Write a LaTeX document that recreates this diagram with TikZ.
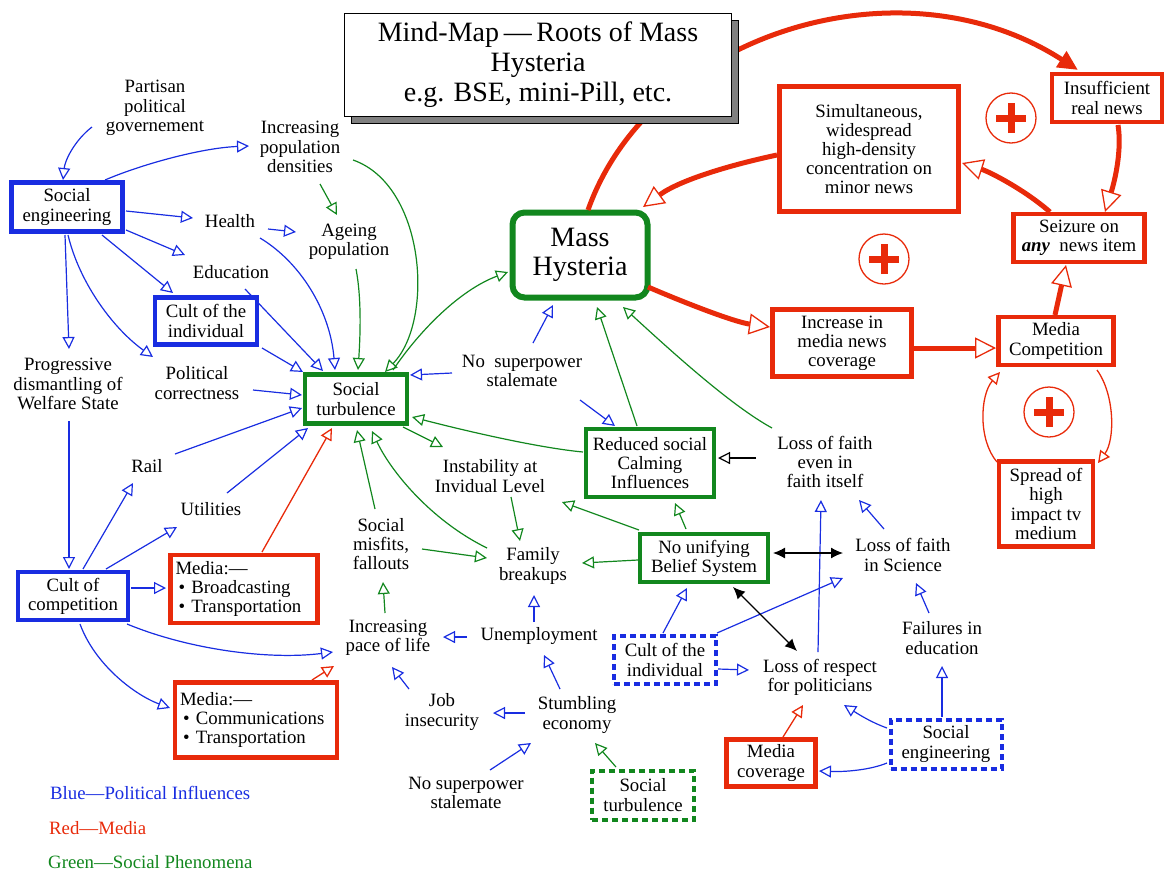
\documentclass[tikz,border=0pt]{standalone}
\usepackage{fontspec}
\setmainfont{Liberation Serif}
\usetikzlibrary{arrows.meta}
\definecolor{myblue}{RGB}{25,45,225}
\definecolor{myred}{RGB}{232,42,10}
\definecolor{mygreen}{RGB}{18,135,30}
\tikzset{
 every node/.style={font=\fontsize{18.8}{19.2}\selectfont},
 txt/.style={align=center, inner sep=0pt},
 bx/.style={draw, fill=white, align=center, inner sep=1pt, line width=4.5pt},
 bbox/.style={bx, draw=myblue},
 gbox/.style={bx, draw=mygreen},
 rbox/.style={bx, draw=myred},
 bdash/.style={bx, draw=myblue, line width=4pt, dash pattern=on 6pt off 4pt},
 gdash/.style={bx, draw=mygreen, line width=4pt, dash pattern=on 6pt off 4pt},
 otip/.style={-{Triangle[open,length=12pt,width=12pt]}},
 bl/.style={myblue, line width=1.2pt, otip},
 gr/.style={mygreen, line width=1.2pt, otip},
 rd/.style={myred, line width=1.3pt, otip},
 bk/.style={black, line width=1.2pt, otip},
 bkdbl/.style={black, line width=1.2pt, {Latex[length=12pt,width=11pt]}-{Latex[length=12pt,width=11pt]}},
 rthick/.style={myred, line width=5pt, -{Triangle[open,length=21pt,width=21pt,line width=1.3pt]}},
 pluscirc/.style={circle, draw=myred, line width=1.3pt, minimum size=50pt, inner sep=0pt},
}
\begin{document}
\begin{tikzpicture}[x=1pt,y=-1pt]
\useasboundingbox (0,0) rectangle (1166,873);
% ---------- nodes ----------
\node[txt] (partisan) at (155,108) {Partisan\\political\\governement};
\node[txt] (popdens) at (300,147) {Increasing\\population\\densities};
\node[bbox, minimum width=111pt, minimum height=49pt] (soceng) at (67,207) {Social\\engineering};
\node[txt] (health) at (230,221) {Health};
\node[txt] (educ) at (231,272) {Education};
\node[txt] (ageing) at (349,242) {Ageing\\population};
\node[bbox, minimum width=102pt, minimum height=47pt] (cultind) at (206,321) {Cult of the\\individual};
\node[txt] (progdis) at (68,384) {Progressive\\dismantling of\\Welfare State};
\node[txt] (polcor) at (197,383) {Political\\correctness};
\node[gbox, minimum width=102pt, minimum height=49pt] (st) at (356,399) {Social\\turbulence};
\node[txt] (nosup1) at (522,371) {No\ \ superpower\\stalemate};
\node[txt] (rail) at (147,466) {Rail};
\node[txt] (util) at (211,509) {Utilities};
\node[txt] (instab) at (490,476) {Instability at\\Invidual Level};
\node[gbox, minimum width=128pt, minimum height=68pt] (reduced) at (650,463) {Reduced social\\Calming\\Influences};
\node[txt] (lossfaith) at (825,462) {Loss of faith\\even in\\faith itself};
\node[gbox, minimum width=128pt, minimum height=48pt] (nounify) at (704,558) {No unifying\\Belief System};
\node[txt] (losssci) at (903,555) {Loss of faith\\in Science};
\node[txt] (misfits) at (381,544) {Social\\misfits,\\fallouts};
\node[txt] (family) at (533,566) {Family\\breakups};
\node[bbox, minimum width=110pt, minimum height=48pt] (cultcomp) at (73,596) {Cult of\\competition};
\node[rbox, align=left, text width=137pt, minimum height=68pt, inner xsep=5pt] (mediab) at (244,589) {Media:—\\\hspace*{3pt}\textbullet\ Broadcasting\\\hspace*{3pt}\textbullet\ Transportation};
\node[rbox, align=left, text width=152pt, minimum height=75pt, inner xsep=5pt] (mediac) at (256,720) {Media:—\\\hspace*{3pt}\textbullet\ Communications\\\hspace*{3pt}\textbullet\ Transportation};
\node[txt] (pace) at (388,638) {Increasing\\pace of life};
\node[txt] (unemp) at (539,636) {Unemployment};
\node[bdash, minimum width=102pt, minimum height=48pt] (cultind2) at (665,660) {Cult of the\\individual};
\node[txt] (lossresp) at (820,677) {Loss of respect\\for politicians};
\node[txt] (failed) at (942,638) {Failures in\\education};
\node[txt] (jobins) at (442,712) {Job\\insecurity};
\node[txt] (stumb) at (577,715) {Stumbling\\economy};
\node[txt] (nosup2) at (466,793) {No superpower\\stalemate};
\node[gdash, minimum width=102pt, minimum height=49pt] (st2) at (643,795) {Social\\turbulence};
\node[rbox, minimum width=89pt, minimum height=47pt] (mediacov) at (771,763) {Media\\coverage};
\node[bdash, minimum width=111pt, minimum height=49pt] (soceng2) at (946,744) {Social\\engineering};
\node[gbox, line width=6pt, rounded corners=12pt, minimum width=135pt, minimum height=85pt, font=\fontsize{28}{29}\selectfont] (mh) at (580,255) {Mass\\Hysteria};
\node[rbox, minimum width=110pt, minimum height=48pt] (insuf) at (1107,98) {Insufficient\\real news};
\node[rbox, minimum width=179pt, minimum height=125pt] (simul) at (869,149) {Simultaneous,\\widespread\\high-density\\concentration on\\minor news};
\node[rbox, minimum width=131pt, minimum height=48pt] (seize) at (1079,238) {Seizure on\\\textbf{\textit{any}}\ \ news item};
\node[rbox, minimum width=139pt, minimum height=67pt] (incr) at (842,343) {Increase in\\media news\\coverage};
\node[rbox, minimum width=115pt, minimum height=48pt] (mcomp) at (1056,341) {Media\\Competition};
\node[rbox, minimum width=94pt, minimum height=85pt] (spread) at (1046,504) {Spread of\\high\\impact tv\\medium};
\node[pluscirc] (p1) at (1011,118) {};
\node[pluscirc] (p2) at (884,259) {};
\node[pluscirc] (p3) at (1049,412) {};
\foreach \p in {p1,p2,p3} {
  \draw[myred, line width=7pt] ([xshift=-15pt]\p.center) -- ([xshift=15pt]\p.center);
  \draw[myred, line width=7pt] ([yshift=-15pt]\p.center) -- ([yshift=15pt]\p.center);
}
\node[anchor=west, inner sep=0pt, text=myblue] (leg1) at (50,793) {Blue—Political Influences};
\node[anchor=west, inner sep=0pt, text=myred] (leg2) at (49,828) {Red—Media};
\node[anchor=west, inner sep=0pt, text=mygreen] (leg3) at (48,862) {Green—Social Phenomena};
% ---------- red thick ----------
\draw[myred, line width=5pt, -{Triangle[length=20pt,width=18pt]}] ([shift={(8,-45)}]mh.center) .. controls (650,35) and (900,-45) .. ([shift={(-29,-28)}]insuf.center);
\draw[rthick] ([shift={(68,32)}]mh.center) .. controls (690,305) and (735,322) .. ([shift={(-72,-16)}]incr.center);
\draw[rthick] ([shift={(72,5)}]incr.center) -- ([shift={(-60,7)}]mcomp.center);
\draw[rthick] ([shift={(-1,-26)}]mcomp.center) -- ([shift={(-13,27)}]seize.center);
\draw[rthick] ([shift={(-29,-26)}]seize.center) .. controls (1025,190) and (990,172) .. ([shift={(93,14)}]simul.center);
\draw[rthick] ([shift={(11,27)}]insuf.center) .. controls (1122,150) and (1115,180) .. ([shift={(26,-26)}]seize.center);
\draw[rthick] ([shift={(-92,6)}]simul.center) .. controls (730,165) and (680,180) .. ([shift={(63,-48)}]mh.center);
% ---------- red thin ----------
\draw[rd] ([shift={(-49,-42)}]spread.center) .. controls (978,440) and (980,395) .. ([shift={(-56,31)}]mcomp.center);
\draw[rd] ([shift={(41,29)}]mcomp.center) .. controls (1115,395) and (1115,440) .. ([shift={(52,-41)}]spread.center);
\draw[rd] ([shift={(18,-37)}]mediab.center) -- ([shift={(-24,29)}]st.center);
\draw[rd] ([shift={(56,-40)}]mediac.center) -- ([shift={(-54,28)}]pace.center);
\draw[rd] ([shift={(12,-26)}]mediacov.center) -- ([shift={(-17,28)}]lossresp.center);
% ---------- blue ----------
\draw[bl] ([shift={(-63,19)}]partisan.center) .. controls (75,140) and (65,160) .. ([shift={(-4,-27)}]soceng.center);
\draw[bl] ([shift={(38,-27)}]soceng.center) .. controls (140,165) and (200,148) .. ([shift={(-51,-1)}]popdens.center);
\draw[bl] ([shift={(59,4)}]soceng.center) -- ([shift={(-37,-3)}]health.center);
\draw[bl] ([shift={(59,23)}]soceng.center) -- ([shift={(-46,-17)}]educ.center);
\draw[bl] ([shift={(35,28)}]soceng.center) -- ([shift={(-33,-28)}]cultind.center);
\draw[bl] ([shift={(-2,28)}]soceng.center) -- ([shift={(1,-35)}]progdis.center);
\draw[bl] ([shift={(1,28)}]soceng.center) .. controls (80,285) and (115,330) .. ([shift={(-44,-26)}]polcor.center);
\draw[bl] ([shift={(38,8)}]health.center) -- ([shift={(-53,-10)}]ageing.center);
\draw[bl] ([shift={(30,17)}]health.center) .. controls (300,262) and (330,310) .. ([shift={(-21,-29)}]st.center);
\draw[bl] ([shift={(14,17)}]educ.center) -- ([shift={(-33,-28)}]st.center);
\draw[bl] ([shift={(56,27)}]cultind.center) -- ([shift={(-53,-27)}]st.center);
\draw[bl] ([shift={(56,7)}]polcor.center) -- ([shift={(-54,-4)}]st.center);
\draw[bl] ([shift={(28,-12)}]rail.center) -- ([shift={(-54,9)}]st.center);
\draw[bl] ([shift={(16,-16)}]util.center) -- ([shift={(-48,29)}]st.center);
\draw[bl] ([shift={(1,37)}]progdis.center) -- ([shift={(-4,-27)}]cultcomp.center);
\draw[bl] ([shift={(10,-27)}]cultcomp.center) -- ([shift={(-14,17)}]rail.center);
\draw[bl] ([shift={(33,-27)}]cultcomp.center) -- ([shift={(-34,18)}]util.center);
\draw[bl] ([shift={(58,-8)}]cultcomp.center) -- ([shift={(-78,-1)}]mediab.center);
\draw[bl] ([shift={(54,28)}]cultcomp.center) .. controls (190,650) and (270,660) .. ([shift={(-55,14)}]pace.center);
\draw[bl] ([shift={(7,28)}]cultcomp.center) .. controls (95,665) and (135,695) .. ([shift={(-86,-12)}]mediac.center);
\draw[bl] ([shift={(-70,2)}]nosup1.center) -- ([shift={(54,-24)}]st.center);
\draw[bl] ([shift={(11,-28)}]nosup1.center) -- ([shift={(-27,50)}]mh.center);
\draw[bl] ([shift={(58,29)}]nosup1.center) -- ([shift={(-35,-37)}]reduced.center);
\draw[bl] ([shift={(-33,-23)}]jobins.center) -- ([shift={(4,29)}]pace.center);
\draw[bl] ([shift={(-72,1)}]unemp.center) -- ([shift={(55,-1)}]pace.center);
\draw[bl] ([shift={(-5,-14)}]unemp.center) -- ([shift={(1,29)}]family.center);
\draw[bl] ([shift={(-17,-26)}]stumb.center) -- ([shift={(5,19)}]unemp.center);
\draw[bl] ([shift={(-52,-2)}]stumb.center) -- ([shift={(51,1)}]jobins.center);
\draw[bl] ([shift={(24,-23)}]nosup2.center) -- ([shift={(-46,28)}]stumb.center);
\draw[bl] ([shift={(-2,-27)}]cultind2.center) -- ([shift={(-17,30)}]nounify.center);
\draw[bl] ([shift={(52,-27)}]cultind2.center) -- ([shift={(-60,23)}]losssci.center);
\draw[bl] ([shift={(53,9)}]cultind2.center) -- ([shift={(-71,-7)}]lossresp.center);
\draw[bl] ([shift={(-2,-25)}]lossresp.center) -- ([shift={(-4,38)}]lossfaith.center);
\draw[bl] ([shift={(-19,-26)}]losssci.center) -- ([shift={(34,38)}]lossfaith.center);
\draw[bl] ([shift={(-13,-25)}]failed.center) -- ([shift={(13,28)}]losssci.center);
\draw[bl] ([shift={(-4,-27)}]soceng2.center) -- ([shift={(0,28)}]failed.center);
\draw[bl] ([shift={(-59,-16)}]soceng2.center) .. controls (870,722) and (855,712) .. ([shift={(24,28)}]lossresp.center);
\draw[bl] ([shift={(-59,19)}]soceng2.center) .. controls (870,770) and (845,772) .. ([shift={(48,8)}]mediacov.center);
% ---------- green ----------
\draw[gr] ([shift={(20,37)}]popdens.center) -- ([shift={(-12,-27)}]ageing.center);
\draw[gr] ([shift={(53,13)}]popdens.center) .. controls (425,185) and (435,320) .. ([shift={(29,-27)}]st.center);
\draw[gr] ([shift={(7,27)}]ageing.center) .. controls (362,300) and (360,340) .. ([shift={(2,-29)}]st.center);
\draw[gr] ([shift={(37,-29)}]st.center) .. controls (420,330) and (460,290) .. ([shift={(-72,17)}]mh.center);
\draw[gr] ([shift={(-67,-11)}]reduced.center) .. controls (540,448) and (470,432) .. ([shift={(56,18)}]st.center);
\draw[gr] ([shift={(47,28)}]st.center) -- ([shift={(-47,-29)}]instab.center);
\draw[gr] ([shift={(-13,-37)}]reduced.center) -- ([shift={(17,52)}]mh.center);
\draw[gr] ([shift={(-53,-34)}]lossfaith.center) .. controls (730,405) and (670,350) .. ([shift={(43,52)}]mh.center);
\draw[gr] ([shift={(-6,-35)}]misfits.center) -- ([shift={(1,31)}]st.center);
\draw[gr] ([shift={(-46,-18)}]family.center) .. controls (430,520) and (390,470) .. ([shift={(16,32)}]st.center);
\draw[gr] ([shift={(41,5)}]misfits.center) -- ([shift={(-46,-8)}]family.center);
\draw[gr] ([shift={(21,21)}]instab.center) -- ([shift={(-13,-25)}]family.center);
\draw[gr] ([shift={(-66,2)}]nounify.center) -- ([shift={(49,-3)}]family.center);
\draw[gr] ([shift={(-18,-29)}]nounify.center) -- ([shift={(25,40)}]reduced.center);
\draw[gr] ([shift={(-65,-28)}]nounify.center) -- ([shift={(72,26)}]instab.center);
\draw[gr] ([shift={(-3,-25)}]pace.center) -- ([shift={(2,38)}]misfits.center);
\draw[gr] ([shift={(-27,-28)}]st2.center) -- ([shift={(18,28)}]stumb.center);
% ---------- black ----------
\draw[bk] ([shift={(-69,-4)}]lossfaith.center) -- ([shift={(68,-5)}]reduced.center);
\draw[bkdbl] ([shift={(69,-5)}]nounify.center) -- ([shift={(-60,-2)}]losssci.center);
\draw[bkdbl] ([shift={(29,29)}]nounify.center) -- ([shift={(-23,-26)}]lossresp.center);
% ---------- title ----------
\node[draw=black, line width=1.2pt, fill=gray, minimum width=387pt, minimum height=103pt] (tshadow) at (545,72) {};
\node[draw=black, line width=1.2pt, fill=white, minimum width=387pt, minimum height=103pt, align=center, inner sep=0pt, font=\fontsize{28}{30}\selectfont] (title) at (538,65) {Mind-Map\,—\,Roots of Mass\\Hysteria\\e.g. BSE, mini-Pill, etc.};
\end{tikzpicture}
\end{document}
